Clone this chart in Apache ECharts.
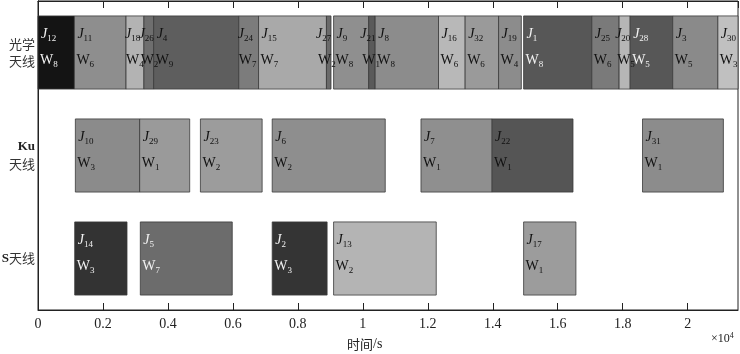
<!DOCTYPE html>
<html>
<head>
<meta charset="utf-8">
<script src="https://cdn.jsdelivr.net/npm/echarts@6/dist/echarts.min.js"></script>
<style>
  html, body { margin: 0; padding: 0; background: #fff; }
  #main { width: 740px; height: 354px; }
</style>
</head>
<body>
<div id="main"></div>
<script>
// rows, bottom to top
const ROWS = ['S天线', 'Ku天线', '光学天线']

// optical antenna tasks
const optJob = [12, 11, 18, 26, 4, 24, 15, 27, 9, 21, 8, 16, 32, 19, 1, 25, 20, 28, 3, 30]
const optW = [8, 6, 4, 2, 9, 7, 7, 2, 8, 1, 8, 6, 6, 4, 8, 6, 5, 5, 5, 3]
const optStart = [0, 1120, 2710, 3260, 3560, 6180, 6790, 8880, 9100, 10180, 10380, 12330, 13150, 14180, 14950, 17050, 17890, 18230, 19540, 20930]
const optEnd = [1120, 2710, 3260, 3560, 6180, 6790, 8880, 9020, 10180, 10380, 12330, 13150, 14180, 14880, 17050, 17890, 18230, 19540, 20930, 21550]

// Ku antenna tasks
const kuJob = [10, 29, 23, 6, 7, 22, 31]
const kuW = [3, 1, 2, 2, 1, 1, 1]
const kuStart = [1150, 3130, 5000, 7210, 11790, 13980, 18610]
const kuEnd = [3130, 4670, 6900, 10690, 13980, 16470, 21100]

// S antenna tasks
const sJob = [14, 5, 2, 13, 17]
const sW = [3, 7, 3, 2, 1]
const sStart = [1130, 3150, 7210, 9100, 14950]
const sEnd = [2740, 5980, 8900, 12260, 16560]

const X_MAX = 21550

// fill per job (style)
const FILL = {
  12: '#141414', 11: '#8e8e8e', 18: '#b3b3b3', 26: '#6e6e6e', 4: '#5e5e5e',
  24: '#7c7c7c', 15: '#a9a9a9', 27: '#6a6a6a', 9: '#8f8f8f', 21: '#5a5a5a',
  8: '#8c8c8c', 16: '#b8b8b8', 32: '#9a9a9a', 19: '#8c8c8c', 1: '#575757',
  25: '#7a7a7a', 20: '#b6b6b6', 28: '#575757', 3: '#8a8a8a', 30: '#c0c0c0',
  10: '#8b8b8b', 29: '#9a9a9a', 23: '#9c9c9c', 6: '#8e8e8e', 7: '#8f8f8f',
  22: '#555555', 31: '#8c8c8c',
  14: '#333333', 5: '#6c6c6c', 2: '#343434', 13: '#b4b4b4', 17: '#9c9c9c',
}
const LIGHT_TEXT = [12, 1, 28, 14, 5, 2]

function build(row, jobs, ws, starts, ends) {
  return jobs.map((j, i) => [row, starts[i], ends[i], j, ws[i]])
}
const data = [].concat(
  build(2, optJob, optW, optStart, optEnd),
  build(1, kuJob, kuW, kuStart, kuEnd),
  build(0, sJob, sW, sStart, sEnd)
)

const SERIF = 'Liberation Serif'
const rich = {
  j: { fontFamily: SERIF, fontStyle: 'italic', fontSize: 14, lineHeight: 18 },
  w: { fontFamily: SERIF, fontSize: 14, lineHeight: 18 },
  s: { fontFamily: SERIF, fontSize: 9, lineHeight: 17, verticalAlign: 'bottom' },
}

function renderItem(params, api) {
  const row = api.value(0)
  const p0 = api.coord([api.value(1), row])
  const p1 = api.coord([api.value(2), row])
  const job = api.value(3)
  const w = api.value(4)
  const h = api.size([0, 1])[1] * 0.71
  const top = p0[1] - h / 2
  const width = p1[0] - p0[0]
  // narrow bars: label ends at the bar's right edge
  let jx = p0[0] + 3
  let wx = p0[0] + 2
  if (width < 16) {
    jx = p1[0] - 15
    wx = p1[0] - 13
  } else if (width < 20) {
    jx = p0[0] - 1
    wx = p0[0]
  }
  const txtColor = LIGHT_TEXT.indexOf(job) >= 0 ? '#f2f2f2' : '#111'
  return {
    type: 'group',
    children: [
      {
        type: 'rect',
        z2: 0,
        shape: { x: p0[0], y: top, width: width, height: h },
        style: { fill: FILL[job], stroke: '#3a3a3a', lineWidth: 0.8 },
      },
      {
        type: 'text',
        z2: 10,
        x: jx, y: top + 18,
        style: { text: '{j|J}{s|' + job + '}', rich: rich, fill: txtColor, verticalAlign: 'middle', align: 'left' },
      },
      {
        type: 'text',
        z2: 10,
        x: wx, y: top + 44,
        style: { text: '{w|W}{s|' + w + '}', rich: rich, fill: txtColor, verticalAlign: 'middle', align: 'left' },
      },
    ],
  }
}

const chart = echarts.init(document.getElementById('main'), null, { renderer: 'canvas' })

const xCommon = {
  type: 'value',
  min: 0,
  max: X_MAX,
  interval: 2000,
  splitLine: { show: false },
  axisLine: { show: true, lineStyle: { color: '#222', width: 1 } },
  axisTick: { show: true, inside: true, length: 7, lineStyle: { color: '#222' } },
}

chart.setOption({
  animation: false,
  backgroundColor: '#fff',
  grid: {
    left: 38, right: 2, top: 1, bottom: 44,
    containLabel: false, outerBoundsMode: 'none',
    show: true, borderColor: '#222', borderWidth: 1,
  },
  xAxis: [
    Object.assign({}, xCommon, {
      position: 'bottom',
      axisLabel: {
        margin: 7,
        color: '#222',
        fontFamily: SERIF,
        fontSize: 14,
        showMaxLabel: false,
        formatter: v => (v % 2000 === 0 ? String(parseFloat((v / 10000).toFixed(1))) : ''),
      },
    }),
    Object.assign({}, xCommon, { position: 'top', axisLabel: { show: false } }),
  ],
  yAxis: [
    {
      type: 'category',
      data: ROWS,
      axisLine: { show: true, lineStyle: { color: '#222' } },
      axisTick: { show: false },
      splitLine: { show: false },
      axisLabel: {
        margin: 3,
        align: 'right',
        color: '#333',
        formatter: v => {
          if (v === '光学天线') return '{c|光学}\n{c|天线}'
          if (v === 'Ku天线') return '{k|Ku}\n{c|天线}'
          return '{k|S}{c|天线}'
        },
        rich: {
          c: { fontFamily: 'Noto Sans CJK SC', fontSize: 13, lineHeight: 17, color: '#333' },
          k: { fontFamily: SERIF, fontWeight: 'bold', fontSize: 13, lineHeight: 17, color: '#222' },
        },
      },
    },
    {
      type: 'category',
      data: ROWS,
      position: 'right',
      axisLine: { show: true, lineStyle: { color: '#222' } },
      axisTick: { show: false },
      axisLabel: { show: false },
    },
  ],
  graphic: [
    {
      type: 'text',
      left: 347, top: 337,
      style: {
        text: '{c|时间}{l|/s}',
        rich: {
          c: { fontFamily: 'Noto Sans CJK SC', fontSize: 13, fill: '#222' },
          l: { fontFamily: SERIF, fontSize: 14, fill: '#222' },
        },
      },
    },
    {
      type: 'text',
      left: 711, top: 332,
      style: {
        text: '{a|×10}{b|4}',
        rich: {
          a: { fontFamily: SERIF, fontSize: 12, lineHeight: 14, fill: '#222' },
          b: { fontFamily: SERIF, fontSize: 8, lineHeight: 14, verticalAlign: 'top', fill: '#222' },
        },
      },
    },
  ],
  series: [
    {
      type: 'custom',
      renderItem: renderItem,
      encode: { x: [1, 2], y: 0 },
      clip: false,
      data: data,
    },
  ],
})
</script>
</body>
</html>
